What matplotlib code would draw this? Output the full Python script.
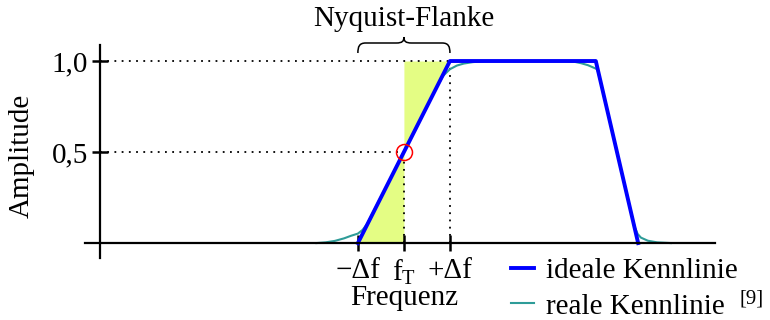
# Nyquist-Flanke: ideale und reale Kennlinie

import matplotlib
matplotlib.use("Agg")
import matplotlib.pyplot as plt
from matplotlib.path import Path
from matplotlib.patches import PathPatch
from matplotlib.transforms import blended_transform_factory

plt.rcParams['font.family'] = ['Liberation Serif', 'DejaVu Serif']
plt.rcParams['mathtext.fontset'] = 'custom'
plt.rcParams['mathtext.rm'] = 'Liberation Serif'
plt.rcParams['mathtext.it'] = 'Liberation Serif:italic'

# Data (x in units of delta f, f_T = 0)
ideal_x = [-1.0, 1.0, 4.17, 5.09]
ideal_y = [0.0, 1.0, 1.0, 0.0]

real_x = [-1.9, -1.7, -1.5, -1.3, -1.15, -1.0, -0.9, -0.8,
          0.7, 0.85, 1.0, 1.15, 1.3, 1.5, 1.8,
          3.5, 3.7, 3.85, 4.0, 4.1, 4.2, 4.28,
          4.95, 5.02, 5.08, 5.15, 5.3, 5.5, 5.8]
real_y = [0.0, 0.004, 0.012, 0.026, 0.040, 0.052, 0.072, 0.105,
          0.85, 0.918, 0.955, 0.975, 0.986, 0.994, 1.0,
          1.0, 0.996, 0.988, 0.977, 0.966, 0.955, 0.88,
          0.155, 0.085, 0.05, 0.03, 0.013, 0.004, 0.0]

x_ticks = [-1.0, 0.0, 1.0]
x_tick_labels = ["\u2212\u0394f", r"$\mathrm{f}_{\mathrm{T}}$", "+\u0394f"]
y_ticks = [0.5, 1.0]
y_tick_labels = ["0,5", "1,0"]

f_T = 0.0
delta_f = 1.0
y_axis_x = -6.61

fs = 21

fig = plt.figure(figsize=(7.7, 3.2), dpi=100)
ax = fig.add_axes([85 / 770, 62 / 320, 630 / 770, 213 / 320])
ax.set_xlim(-6.93, 6.76)
ax.set_ylim(-0.082, 1.088)

# yellow area (symmetrie of the flank)
ax.fill_between([-delta_f, f_T], [0, 0], [0, 0.5], color='#e4fd84', lw=0, zorder=1)
ax.fill_between([f_T, delta_f], [0.5, 1.0], [1.0, 1.0], color='#e4fd84', lw=0, zorder=1)

# dotted guide lines
dot = dict(color='black', lw=1.3, linestyle=(0, (1, 3)), zorder=1.5)
ax.plot([y_axis_x, delta_f], [1.0, 1.0], **dot)
ax.plot([y_axis_x, f_T], [0.5, 0.5], **dot)
ax.plot([f_T, f_T], [0, 0.46], **dot)
ax.plot([delta_f, delta_f], [0, 1.0], **dot)

ax.plot(real_x, real_y, color='#2e9c98', lw=1.5, zorder=2, label='reale Kennlinie')
ax.plot(ideal_x, ideal_y, color='#0000ff', lw=2.8, zorder=3, label='ideale Kennlinie')
ax.plot([f_T], [0.5], 'o', mfc='none', mec='red', ms=11.5, mew=1.1, zorder=4)

# curly brace above the flank
yb, ym, yt = 1.044, 1.099, 1.132
verts = [(-1, yb), (-1, ym - 0.02), (-0.97, ym), (-0.83, ym),
         (-0.17, ym),
         (-0.03, ym), (0, ym + 0.01), (0, yt),
         (0, ym + 0.01), (0.03, ym), (0.17, ym),
         (0.83, ym),
         (0.97, ym), (1, ym - 0.02), (1, yb)]
codes = [Path.MOVETO, Path.CURVE4, Path.CURVE4, Path.CURVE4,
         Path.LINETO,
         Path.CURVE4, Path.CURVE4, Path.CURVE4,
         Path.CURVE4, Path.CURVE4, Path.CURVE4,
         Path.LINETO,
         Path.CURVE4, Path.CURVE4, Path.CURVE4]
ax.add_patch(PathPatch(Path(verts, codes), fill=False, lw=1.1, ec='black', clip_on=False))
ax.text(f_T, 1.23, "Nyquist-Flanke", ha='center', va='center', fontsize=fs, clip_on=False)

# axes
for s in ['top', 'right']:
    ax.spines[s].set_visible(False)
ax.spines['left'].set_position(('data', y_axis_x))
ax.spines['bottom'].set_position(('data', 0))
for s in ['left', 'bottom']:
    ax.spines[s].set_linewidth(1.6)
    ax.spines[s].set_zorder(5)

ax.set_xticks(x_ticks)
ax.set_xticklabels(x_tick_labels)
ax.set_yticks(y_ticks)
ax.set_yticklabels(y_tick_labels)
ax.tick_params(axis='both', direction='inout', length=11, width=1.8, labelsize=fs)
ax.tick_params(axis='x', pad=5)
ax.tick_params(axis='y', pad=3)

trans = blended_transform_factory(ax.transData, fig.transFigure)
ax.text(f_T, 1 - 298 / 320, "Frequenz", transform=trans, ha='center', va='center', fontsize=fs)
fig.text(22 / 770, 1 - 156 / 320, "Amplitude", rotation=90, ha='center', va='center', fontsize=fs)

handles, labels = ax.get_legend_handles_labels()
fig.legend(handles[::-1], labels[::-1], loc='upper left', bbox_to_anchor=(511 / 770, 1 - 258 / 320),
           frameon=False, fontsize=fs, handlelength=0.8, handletextpad=0.4, labelspacing=0.3,
           borderpad=0, borderaxespad=0)
fig.text(752 / 770, 1 - 299 / 320, "[9]", ha='center', va='center', fontsize=15)

fig.savefig("out.png", dpi=100)
